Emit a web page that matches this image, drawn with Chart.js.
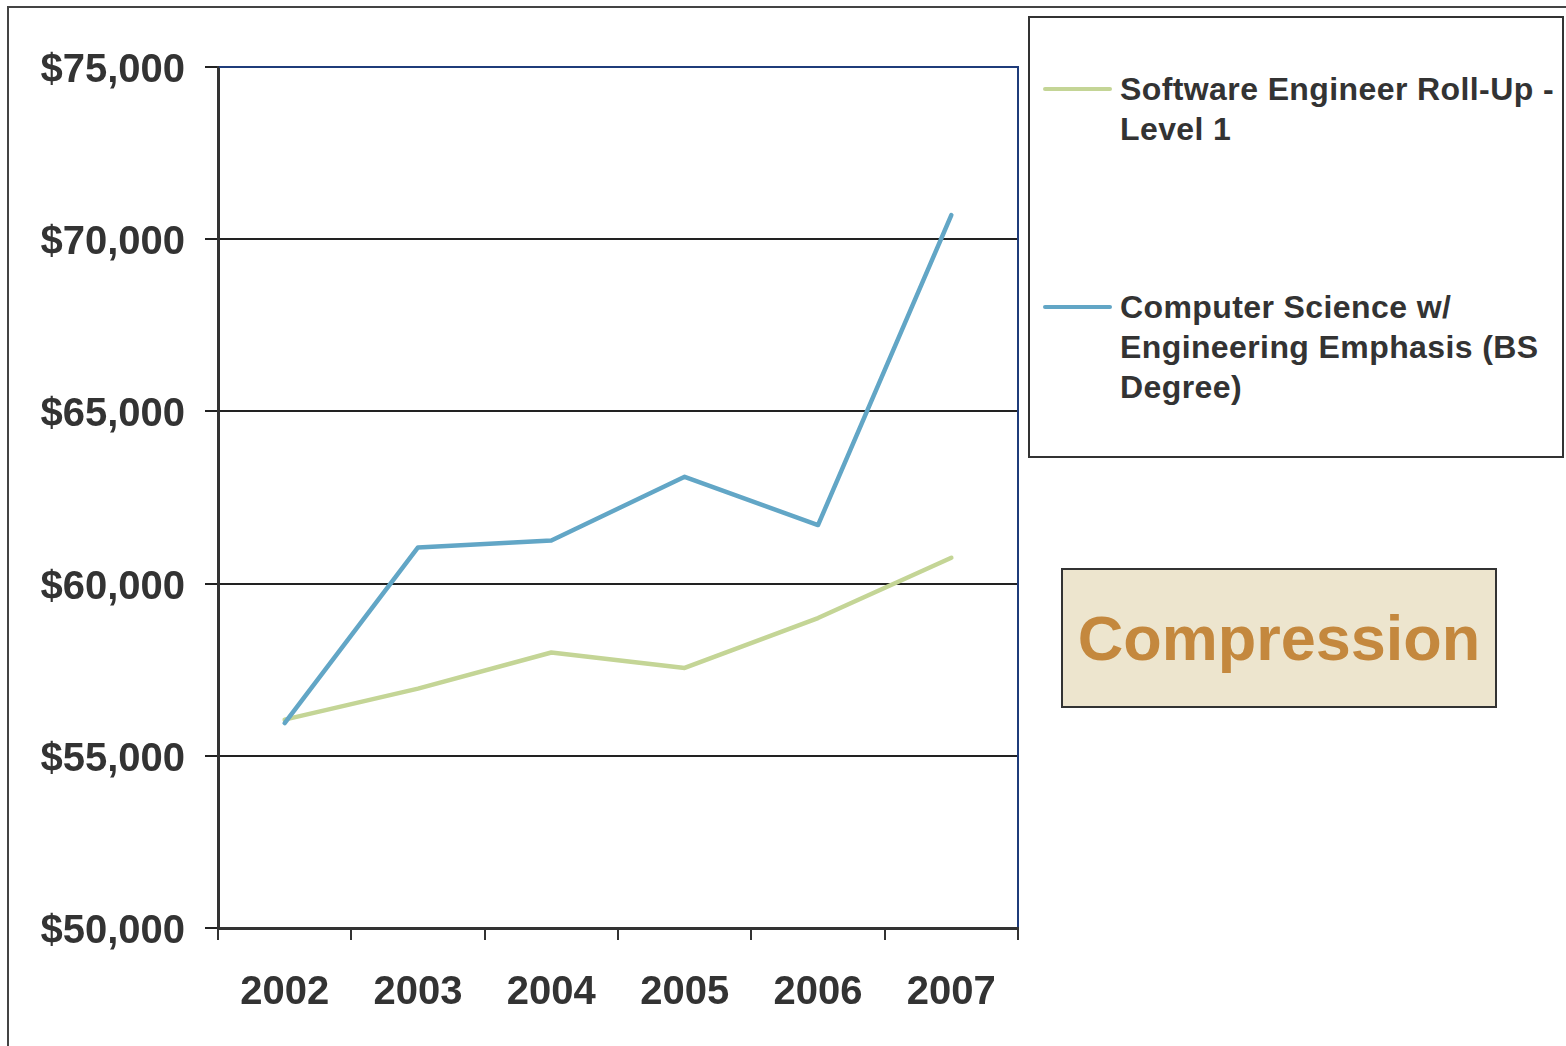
<!DOCTYPE html>
<html>
<head>
<meta charset="utf-8">
<script src="https://cdn.jsdelivr.net/npm/chart.js@4/dist/chart.umd.min.js"></script>
<style>
    html, body { margin: 0; padding: 0; background: #fff; }
    body { width: 1566px; height: 1046px; position: relative; overflow: hidden;
           font-family: "Liberation Sans", Arial, sans-serif; color: #333; }
    #frame { position: absolute; left: 7px; top: 6px; width: 1600px; height: 1100px;
             border-left: 2px solid #444; border-top: 2px solid #444; }
    #chart { position: absolute; left: 0; top: 0; }
    #legend { position: absolute; left: 1028px; top: 16px; width: 532px; height: 438px;
              border: 2px solid #333; background: #fff; }
    .item { position: absolute; left: 90px; font-weight: bold; font-size: 32px;
            line-height: 40px; letter-spacing: 0.4px; white-space: nowrap; }
    .item .swatch { position: absolute; left: -77px; top: 18px; width: 69px; height: 4px;
                    border-radius: 2px; }
    #note { position: absolute; left: 1061px; top: 568px; width: 432px; height: 136px;
            border: 2px solid #333; background: #EDE5CE; color: #C4883E;
            font-weight: bold; font-size: 63px; line-height: 136px; text-align: center; }
</style>
</head>
<body>
<div id="frame"></div>
<canvas id="chart" width="1566" height="1046"></canvas>
<div id="legend"></div>
<div id="note">Compression</div>
<script>
var years = ['2002', '2003', '2004', '2005', '2006', '2007'];
var software_engineer = [56050, 56950, 58000, 57550, 59000, 60750];
var cs_engineering = [55950, 61050, 61250, 63100, 61700, 70700];
var series_names = [
    ['Software Engineer Roll-Up -', 'Level 1'],
    ['Computer Science w/', 'Engineering Emphasis (BS', 'Degree)']
];
var series_colors = ['#C4D596', '#62A6C6'];

var font = "'Liberation Sans', Arial, sans-serif";

// blue frame on top and right of the plot area
var plotFrame = {
    id: 'plotFrame',
    afterDraw: function(chart) {
        var a = chart.chartArea, ctx = chart.ctx;
        ctx.save();
        ctx.strokeStyle = '#1F3C7A';
        ctx.lineWidth = 2;
        ctx.beginPath();
        ctx.moveTo(a.left + 1, a.top);
        ctx.lineTo(a.right, a.top);
        ctx.lineTo(a.right, a.bottom - 1);
        ctx.stroke();
        ctx.restore();
    }
};

function build_legend() {
    var s = '';
    var tops = [69, 287];
    for (var i = 0; i < series_names.length; ++i) {
        s += "<div class='item' style='top:" + (tops[i] - 18) + "px'>";
        s += "<span class='swatch' style='background:" + series_colors[i] + "'></span>";
        s += series_names[i].join('<br>');
        s += '</div>';
    }
    document.getElementById('legend').innerHTML = s;
}
build_legend();

new Chart(document.getElementById('chart'), {
    type: 'line',
    data: {
        labels: years,
        datasets: [{
            label: series_names[0].join(' '),
            data: software_engineer,
            borderColor: series_colors[0],
            order: 1
        }, {
            label: series_names[1].join(' '),
            data: cs_engineering,
            borderColor: series_colors[1],
            order: 0
        }]
    },
    options: {
        responsive: false,
        animation: false,
        devicePixelRatio: 1,
        layout: { padding: { left: 0, top: 67, right: 548, bottom: 0 } },
        elements: {
            line: { borderWidth: 4.5, tension: 0, borderCapStyle: 'round', borderJoinStyle: 'round' },
            point: { radius: 0, hoverRadius: 0 }
        },
        plugins: { legend: { display: false }, tooltip: { enabled: false } },
        scales: {
            x: {
                offset: true,
                afterFit: function(scale) { scale.height = 118; },
                border: { color: '#333', width: 3 },
                grid: { offset: true, drawOnChartArea: false, drawTicks: true, tickLength: 12,
                        color: '#333', lineWidth: 2 },
                ticks: { color: '#333', padding: 29, maxRotation: 0,
                         font: { family: font, size: 40, weight: 'bold' } }
            },
            y: {
                min: 50000,
                max: 75000,
                afterFit: function(scale) { scale.width = 218; },
                border: { color: '#333', width: 3 },
                grid: { color: '#222', lineWidth: 2, tickLength: 13 },
                ticks: {
                    stepSize: 5000,
                    color: '#333',
                    padding: 20,
                    labelOffset: 4,
                    font: { family: font, size: 40, weight: 'bold' },
                    callback: function(v) { return '$' + v.toLocaleString('en-US'); }
                }
            }
        }
    },
    plugins: [plotFrame]
});
</script>
</body>
</html>
